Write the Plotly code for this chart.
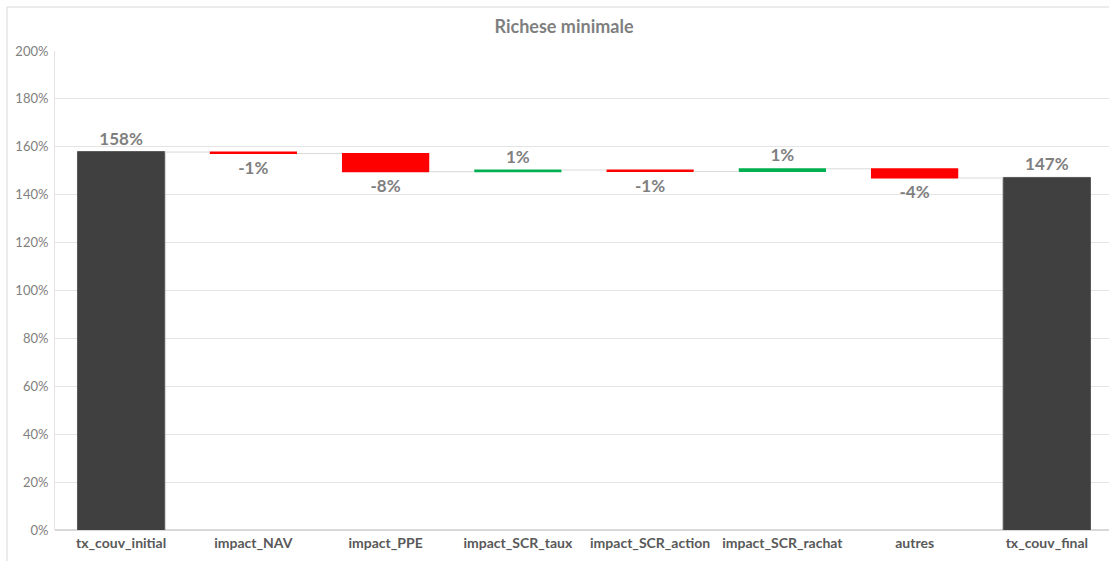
import plotly.graph_objects as go

# Waterfall of the coverage ratio, from the initial to the final level
categories = [
    "tx_couv_initial", "impact_NAV", "impact_PPE", "impact_SCR_taux",
    "impact_SCR_action", "impact_SCR_rachat", "autres", "tx_couv_final",
]
measures = ["absolute", "relative", "relative", "relative",
            "relative", "relative", "relative", "total"]
deltas = [1.578, -0.006, -0.076, 0.007, -0.006, 0.011, -0.038]

final_value = sum(deltas)
values = deltas + [final_value]
labels = [f"{v:.0%}" for v in values]

W, H = 1109, 561
ML, MR, MT, MB = 55, 0, 51, 31
PW, PH = W - ML - MR, H - MT - MB


def px_x(x):
    return (x - ML) / PW


def px_y(y):
    return (H - MB - y) / PH


fig = go.Figure(go.Waterfall(
    x=categories,
    y=values,
    measure=measures,
    text=labels,
    textinfo="text",
    textposition="outside",
    textfont=dict(family="Lato", size=17, color="#7F7F7F", weight="bold"),
    cliponaxis=False,
    increasing=dict(marker=dict(color="#00B050")),
    decreasing=dict(marker=dict(color="#FF0000")),
    totals=dict(marker=dict(color="#404040", line=dict(color="#595959", width=1))),
    connector=dict(mode="between", line=dict(color="#D9D9D9", width=1)),
    hoverinfo="skip",
))

fig.update_layout(
    width=W, height=H,
    margin=dict(l=ML, r=MR, t=MT, b=MB),
    paper_bgcolor="white", plot_bgcolor="white",
    showlegend=False,
    waterfallgap=0.34,
    title=dict(
        text="<b>Richese minimale</b>",
        x=564 / W, xref="container", xanchor="center",
        y=1 - 27 / H, yref="container", yanchor="middle",
        font=dict(family="Lato", size=18, color="#7F7F7F"),
    ),
    font=dict(family="Lato"),
)

fig.update_xaxes(
    range=[-0.5, 7.47],
    showgrid=False,
    showline=False,
    ticks="",
    tickfont=dict(family="Lato", size=14, color="#595959", weight="bold"),
    ticklabelstandoff=3,
)

fig.update_yaxes(
    range=[0, 2.0],
    dtick=0.2,
    tickformat=".0%",
    showgrid=True,
    gridcolor="#E4E4E4",
    gridwidth=1,
    showline=True,
    linecolor="#E4E4E4",
    linewidth=1,
    zeroline=True,
    zerolinecolor="#D9D9D9",
    ticks="",
    tickfont=dict(family="Lato", size=13, color="#808080"),
    ticklabelstandoff=3,
)

# Chart-area frame (top and left edges)
fig.add_shape(type="line", xref="paper", yref="paper",
              x0=px_x(7), y0=px_y(7), x1=px_x(W + 5), y1=px_y(7),
              line=dict(color="#D9D9D9", width=1))
fig.add_shape(type="line", xref="paper", yref="paper",
              x0=px_x(7), y0=px_y(7), x1=px_x(7), y1=px_y(H + 5),
              line=dict(color="#D9D9D9", width=1))

fig.write_html("out.html")
